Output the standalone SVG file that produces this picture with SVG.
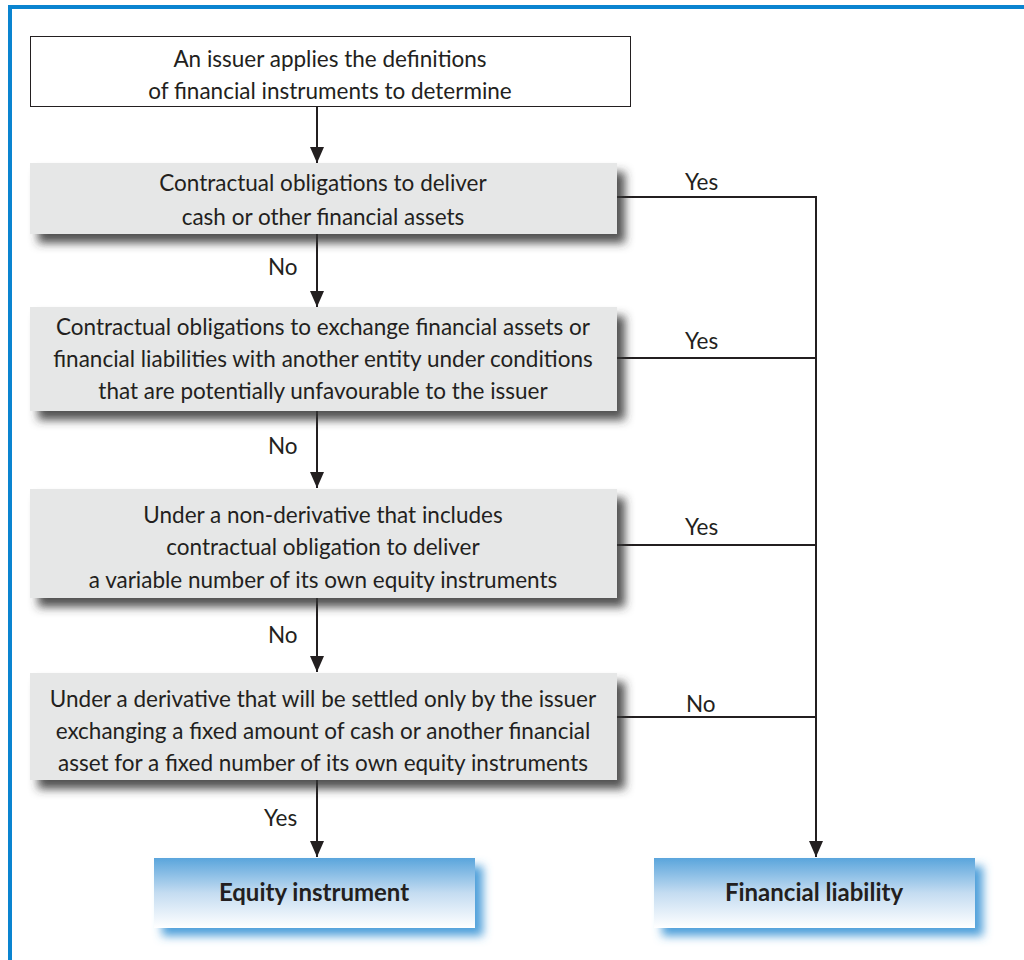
<svg xmlns="http://www.w3.org/2000/svg" width="1024" height="960" viewBox="0 0 1024 960">
  <style>
    .t { font-family: "Lato", "Open Sans", "Liberation Sans", sans-serif; font-size: 22.5px; fill: #231f20; text-anchor: middle; }
    .b { font-weight: bold; font-size: 24px; }
    .lbl { font-family: "Lato", "Open Sans", "Liberation Sans", sans-serif; font-size: 22.5px; fill: #231f20; }
    .q { fill: #e6e7e7; filter: url(#grayShadow); }
    .line { stroke: #231f20; stroke-width: 2; fill: none; }
    .out { fill: url(#blueGrad); filter: url(#blueShadow); }
  </style>
  <defs>
    <filter id="grayShadow" x="-10%" y="-20%" width="125%" height="160%">
      <feGaussianBlur in="SourceAlpha" stdDeviation="5"/>
      <feOffset dx="8" dy="9" result="o"/>
      <feFlood flood-color="#333333" flood-opacity="0.85"/>
      <feComposite in2="o" operator="in" result="s"/>
      <feMerge><feMergeNode in="s"/><feMergeNode in="SourceGraphic"/></feMerge>
    </filter>
    <filter id="blueShadow" x="-10%" y="-30%" width="125%" height="170%">
      <feGaussianBlur in="SourceAlpha" stdDeviation="5"/>
      <feOffset dx="8" dy="8" result="o"/>
      <feFlood flood-color="#3d96d6" flood-opacity="0.9"/>
      <feComposite in2="o" operator="in" result="s"/>
      <feMerge><feMergeNode in="s"/><feMergeNode in="SourceGraphic"/></feMerge>
    </filter>
    <linearGradient id="blueGrad" x1="0" y1="0" x2="0" y2="1">
      <stop offset="0" stop-color="#5aa5dc"/>
      <stop offset="0.5" stop-color="#c4dcf1"/>
      <stop offset="1" stop-color="#ffffff"/>
    </linearGradient>
    <marker id="arr" viewBox="0 0 16 14" refX="16" refY="7" markerWidth="16" markerHeight="14" markerUnits="userSpaceOnUse" orient="auto">
      <path d="M0,0 L16,7 L0,14 z" fill="#231f20"/>
    </marker>
  </defs>

  <rect width="1024" height="960" fill="#ffffff"/>
  <!-- outer frame, open to the right and bottom -->
  <path d="M10,960 L10,7 L1024,7" fill="none" stroke="#0a84d0" stroke-width="4"/>

  <g id="connectors">
    <path class="line" d="M317,106 V163" marker-end="url(#arr)"/>
    <path class="line" d="M317,234 V307" marker-end="url(#arr)"/>
    <path class="line" d="M317,411 V488" marker-end="url(#arr)"/>
    <path class="line" d="M317,598 V672" marker-end="url(#arr)"/>
    <path class="line" d="M317,780 V857" marker-end="url(#arr)"/>
    <path class="line" d="M617,197 H816 V857" marker-end="url(#arr)"/>
    <path class="line" d="M617,358 H816"/>
    <path class="line" d="M617,545 H816"/>
    <path class="line" d="M617,717 H816"/>
    <text class="lbl" x="268" y="275">No</text>
    <text class="lbl" x="268" y="454">No</text>
    <text class="lbl" x="268" y="643">No</text>
    <text class="lbl" x="264" y="826">Yes</text>
    <text class="lbl" x="685" y="190">Yes</text>
    <text class="lbl" x="685" y="349">Yes</text>
    <text class="lbl" x="685" y="535">Yes</text>
    <text class="lbl" x="686" y="712">No</text>
  </g>

  <g id="start">
    <rect x="30.5" y="36.5" width="600" height="70" fill="#ffffff" stroke="#231f20" stroke-width="1"/>
    <text class="t" x="330" y="67">An issuer applies the definitions</text>
    <text class="t" x="330" y="99">of financial instruments to determine</text>
  </g>

  <g id="q1">
    <rect class="q" x="30" y="163" width="587" height="71"/>
    <text class="t" x="323" y="191">Contractual obligations to deliver</text>
    <text class="t" x="323" y="225">cash or other financial assets</text>
  </g>

  <g id="q2">
    <rect class="q" x="30" y="307" width="587" height="104"/>
    <text class="t" x="323" y="335">Contractual obligations to exchange financial assets or</text>
    <text class="t" x="323" y="367">financial liabilities with another entity under conditions</text>
    <text class="t" x="323" y="399">that are potentially unfavourable to the issuer</text>
  </g>

  <g id="q3">
    <rect class="q" x="30" y="489" width="587" height="109"/>
    <text class="t" x="323" y="523">Under a non-derivative that includes</text>
    <text class="t" x="323" y="555">contractual obligation to deliver</text>
    <text class="t" x="323" y="588">a variable number of its own equity instruments</text>
  </g>

  <g id="q4">
    <rect class="q" x="30" y="673" width="587" height="107"/>
    <text class="t" x="323" y="707">Under a derivative that will be settled only by the issuer</text>
    <text class="t" x="323" y="739">exchanging a fixed amount of cash or another financial</text>
    <text class="t" x="323" y="771">asset for a fixed number of its own equity instruments</text>
  </g>

  <g id="equity">
    <rect class="out" x="154" y="858" width="321" height="70"/>
    <text class="t b" x="314" y="901">Equity instrument</text>
  </g>

  <g id="liability">
    <rect class="out" x="654" y="858" width="321" height="70"/>
    <text class="t b" x="814" y="901">Financial liability</text>
  </g>
</svg>
